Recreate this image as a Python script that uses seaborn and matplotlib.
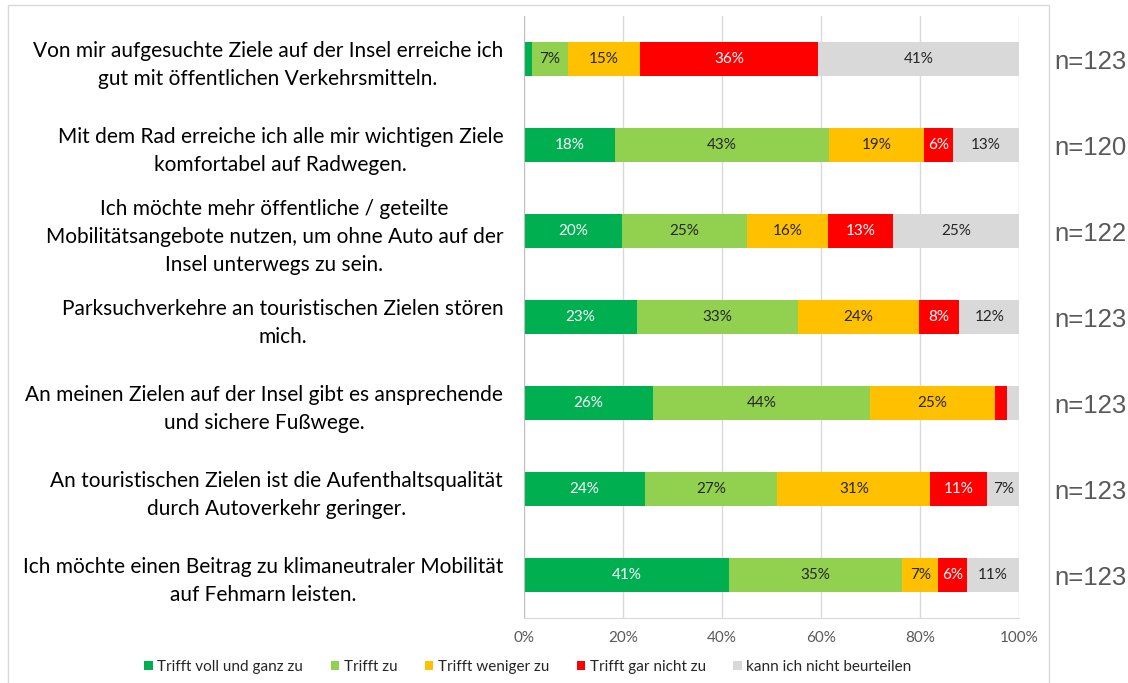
import numpy as np
import pandas as pd
import matplotlib.pyplot as plt
from matplotlib.patches import Patch, Rectangle
import seaborn as sns

# Aussagen (Y-Achse) und Stichprobengroessen
questions = [
    "Von mir aufgesuchte Ziele auf der Insel erreiche ich\ngut mit öffentlichen Verkehrsmitteln.",
    "Mit dem Rad erreiche ich alle mir wichtigen Ziele\nkomfortabel auf Radwegen.",
    "Ich möchte mehr öffentliche / geteilte\nMobilitätsangebote nutzen, um ohne Auto auf der\nInsel unterwegs zu sein.",
    "Parksuchverkehre an touristischen Zielen stören\nmich.",
    "An meinen Zielen auf der Insel gibt es ansprechende\nund sichere Fußwege.",
    "An touristischen Zielen ist die Aufenthaltsqualität\ndurch Autoverkehr geringer.",
    "Ich möchte einen Beitrag zu klimaneutraler Mobilität\nauf Fehmarn leisten.",
]
n_values = [123, 120, 122, 123, 123, 123, 123]

categories = ["Trifft voll und ganz zu", "Trifft zu", "Trifft weniger zu",
              "Trifft gar nicht zu", "kann ich nicht beurteilen"]
colors = ["#00B050", "#92D050", "#FFC000", "#FF0000", "#D9D9D9"]

# Anteile in Prozent
voll = [1.6, 18.3, 19.7, 22.8, 26.0, 24.4, 41.4]
zu = [7.3, 43.3, 25.4, 32.6, 43.9, 26.8, 35.0]
weniger = [14.6, 19.2, 16.4, 24.4, 25.2, 30.9, 7.3]
gar_nicht = [35.8, 5.8, 13.1, 8.1, 2.4, 11.4, 5.7]
weiss_nicht = [40.7, 13.3, 25.4, 12.2, 2.4, 6.6, 10.6]

df = pd.DataFrame({"Frage": questions})
for cat, vals in zip(categories, [voll, zu, weniger, gar_nicht, weiss_nicht]):
    df[cat] = vals
cum = df[categories].cumsum(axis=1)
cum["Frage"] = questions

sns.set_style("white")
plt.rcParams["font.family"] = ["Lato", "DejaVu Sans"]

fig = plt.figure(figsize=(11.28, 6.83))
ax = fig.add_axes([524 / 1128, 1 - 618 / 683, 495 / 1128, 602 / 683])

# gestapelte Balken: kumulierte Summen von hinten nach vorne zeichnen
for cat, col in reversed(list(zip(categories, colors))):
    sns.barplot(data=cum, x=cat, y="Frage", color=col, width=0.4, orient="h",
                saturation=1, linewidth=0, ax=ax)

# Beschriftungen in den Segmenten
for i in range(len(questions)):
    for cat in categories:
        val = df.loc[i, cat]
        if val < 4:
            continue
        centre = cum.loc[i, cat] - val / 2
        txt_col = "white" if cat in ("Trifft voll und ganz zu", "Trifft gar nicht zu") else "#262626"
        ax.text(centre, i, f"{val:.0f}%", ha="center", va="center", fontsize=11, color=txt_col)
    ax.text(107.2, i + 0.04, f"n={n_values[i]}", ha="left", va="center", fontsize=18.5,
            color="#595959", family="Liberation Sans", clip_on=False)

ax.set_xlim(0, 100)
ax.set_ylim(6.5, -0.5)
ax.set_xticks(range(0, 101, 20))
ax.set_xticklabels([f"{x}%" for x in range(0, 101, 20)], color="#595959", fontsize=11)
ax.set_yticks(range(len(questions)))
ax.set_yticklabels(questions, fontsize=15, ma="center", color="black", linespacing=1.5)
ax.set_yticks(np.arange(-0.5, 7, 1), minor=True)
ax.tick_params(axis="y", which="major", length=0, pad=15)
ax.tick_params(axis="y", which="minor", length=5, color="#BFBFBF", width=1)
ax.tick_params(axis="x", length=4, color="#D9D9D9", width=1, pad=5)
ax.set_xlabel("")
ax.set_ylabel("")
ax.xaxis.grid(True, color="#D9D9D9", lw=1)
ax.set_axisbelow(True)
sns.despine(ax=ax, top=True, right=True)
ax.spines["left"].set_color("#BFBFBF")
ax.spines["bottom"].set_color("#D9D9D9")

handles = [Patch(facecolor=c, edgecolor="none") for c in colors]
fig.legend(handles, categories, loc="center", bbox_to_anchor=(528 / 1128, 1 - 667 / 683),
           ncol=5, frameon=False, fontsize=11, handlelength=0.55, handleheight=0.55,
           handletextpad=0.3, columnspacing=1.8)

# Rahmen des Diagrammbereichs
fig.patches.append(Rectangle((8 / 1128, -0.01), 1041 / 1128, 1.01 - 5 / 683,
                             transform=fig.transFigure, fill=False,
                             edgecolor="#D9D9D9", lw=1))

fig.savefig("out.png", dpi=100)
